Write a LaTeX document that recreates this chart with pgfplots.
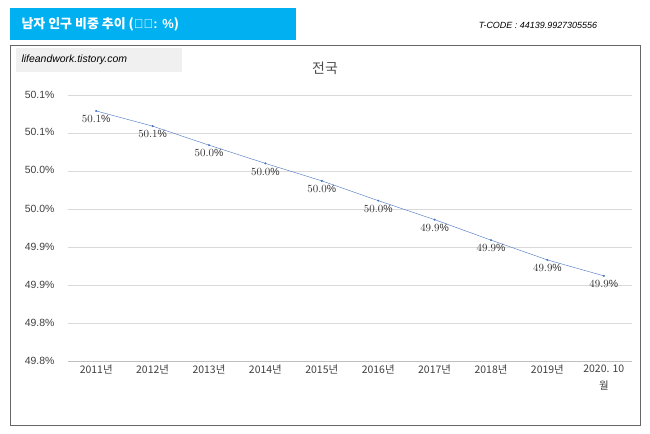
\documentclass[border=0pt]{standalone}
\usepackage{pgfplots}
\pgfplotsset{compat=1.18}
\usepackage{fontspec}
\setmainfont{Noto Sans CJK KR}
\newfontfamily\lat{Liberation Sans}
\definecolor{tb}{HTML}{00B0F0}
\definecolor{ln}{HTML}{4472C4}
\begin{document}
\begin{tikzpicture}[x=1bp,y=1bp]
\useasboundingbox (0,0) rectangle (650,434);
\fill[white] (0,0) rectangle (650,434);
\draw[black!60] (10,9) rectangle (640,389);
\fill[tb] (10,394) rectangle (296,426);
\node[text=white,font=\bfseries\fontsize{13}{15}\selectfont,anchor=west] at (18,410) {남자 인구 비중 추이 ({\lat\bfseries 단위: \%})};
\node[font=\lat\itshape\fontsize{9}{10}\selectfont] at (538,409) {T-CODE : 44139.9927305556};
\fill[black!6] (16,362) rectangle (182,386);
\node[font=\lat\itshape\fontsize{10.5}{12}\selectfont,anchor=west] at (18,374) {lifeandwork.tistory.com};
\node[text=black!70,font=\fontsize{14}{16}\selectfont] at (325,366) {전국};
\begin{axis}[at={(68bp,73bp)},anchor=south west,scale only axis,width=564bp,height=266bp,
 xmin=-0.5,xmax=9.5,ymin=49.75,ymax=50.10,
 ytick={49.75,49.80,...,50.11},
 yticklabels={},
 xtick={0,...,9},
 xticklabels={2011년,2012년,2013년,2014년,2015년,2016년,2017년,2018년,2019년,{2020. 10\\월}},
 xticklabel style={align=center,font=\fontsize{10.5}{17}\selectfont,text=black!75},
 axis x line*=bottom, axis y line*=left, y axis line style={draw=none}, x axis line style={black!25,-},
 ymajorgrids, grid style={black!15}, tick style={draw=none},
 clip=false,
]
\addplot[ln,mark=*,mark size=0.8,
 nodes near coords={\lat\pgfmathprintnumber[fixed,fixed zerofill,precision=1]{\pgfplotspointmeta}\%},
 nodes near coords style={anchor=north,yshift=-1bp,font=\fontsize{10.5}{12}\selectfont,text=black!80}]
 coordinates {(0,50.079)(1,50.059)(2,50.034)(3,50.010)(4,49.987)(5,49.961)(6,49.936)(7,49.909)(8,49.883)(9,49.862)};
\end{axis}
\foreach \v/\y in {49.8/73,49.8/111,49.9/149,49.9/187,50.0/225,50.0/264,50.1/302,50.1/339}
 \node[anchor=east,font=\lat\fontsize{10.5}{12}\selectfont,text=black!75] at (58,\y) {\v\%};
\end{tikzpicture}
\end{document}
